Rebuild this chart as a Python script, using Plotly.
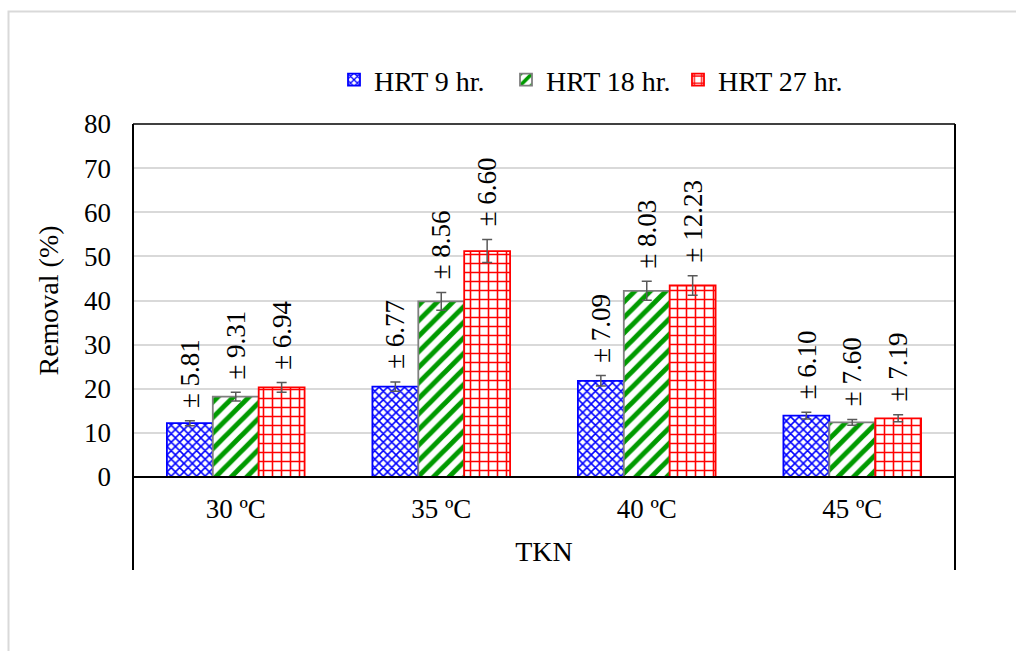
import plotly.graph_objects as go

# Temperatures on the category axis
categories = ["30 ºC", "35 ºC", "40 ºC", "45 ºC"]

# Mean TKN removal (%) for each hydraulic retention time
hrt9 = [12.2, 20.5, 21.8, 13.9]
hrt18 = [18.2, 39.8, 42.2, 12.4]
hrt27 = [20.3, 51.2, 43.4, 13.3]

# Error bar half-lengths
hrt9_err = [0.57, 1.05, 1.2, 0.75]
hrt18_err = [1.0, 2.0, 2.15, 0.65]
hrt27_err = [1.1, 2.6, 2.2, 0.8]

# Standard deviation labels written above each bar
hrt9_sd = ["5.81", "6.77", "7.09", "6.10"]
hrt18_sd = ["9.31", "8.56", "8.03", "7.60"]
hrt27_sd = ["6.94", "6.60", "12.23", "7.19"]

series_names = ["HRT 9 hr.", "HRT 18 hr.", "HRT 27 hr."]
y_ticks = [0, 10, 20, 30, 40, 50, 60, 70, 80]

FONT = "Liberation Serif"
FS = 27
FS_BIG = 28
W, H = 1016, 651
ML, MR, MT, MB = 133, 61, 124, 174
PW, PH = W - ML - MR, H - MT - MB
BARGAP = 0.33

styles = [
    dict(line="#0000ff", fg="#0000ff", shape="x", size=6, solidity=0.45),
    dict(line="#7f7f7f", fg="#009a00", shape="/", size=11, solidity=0.45),
    dict(line="#ff0000", fg="#ff0000", shape="+", size=9, solidity=0.32),
]
values = [hrt9, hrt18, hrt27]
errors = [hrt9_err, hrt18_err, hrt27_err]
sds = [hrt9_sd, hrt18_sd, hrt27_sd]

fig = go.Figure()
for name, vals, errs, st in zip(series_names, values, errors, styles):
    fig.add_trace(go.Bar(
        x=categories, y=vals, name=name,
        marker=dict(
            color="white",
            line=dict(color=st["line"], width=1.8),
            pattern=dict(shape=st["shape"], fgcolor=st["fg"], bgcolor="white",
                         fgopacity=1, size=st["size"],
                         solidity=st["solidity"]),
        ),
        error_y=dict(type="data", array=errs, color="#595959",
                     thickness=1.5, width=5),
    ))

# Rotated "± sd" labels sitting on top of each error bar
bw = (1 - BARGAP) / 3
annotations = []
for j, (vals, errs, labels) in enumerate(zip(values, errors, sds)):
    for i in range(len(categories)):
        annotations.append(dict(
            x=i + (j - 1) * bw, y=vals[i] + errs[i], xref="x", yref="y",
            text="± " + labels[i], textangle=-90, showarrow=False,
            xanchor="center", yanchor="bottom", yshift=11,
            font=dict(family=FONT, size=FS, color="black"),
        ))


def py(px):
    return (H - MB - px) / PH


def px_x(px):
    return (px - ML) / PW


shapes = [
    # light outer frame
    dict(type="rect", xref="paper", yref="paper", x0=px_x(8.5), x1=px_x(1030),
         y0=py(670), y1=py(11.5), line=dict(color="#d9d9d9", width=2),
         layer="below"),
    # plot frame and category-axis extensions
    dict(type="line", xref="paper", yref="paper", x0=0, x1=1, y0=1, y1=1,
         line=dict(color="black", width=1.5), layer="above"),
    dict(type="line", xref="paper", yref="paper", x0=0, x1=0, y0=py(570), y1=1,
         line=dict(color="black", width=2), layer="above"),
    dict(type="line", xref="paper", yref="paper", x0=1, x1=1, y0=py(570), y1=1,
         line=dict(color="black", width=2), layer="above"),
    dict(type="line", xref="paper", yref="paper", x0=0, x1=1, y0=0, y1=0,
         line=dict(color="black", width=2), layer="above"),
]

fig.update_layout(
    width=W, height=H, autosize=False,
    margin=dict(l=ML, r=MR, t=MT, b=MB, pad=0),
    paper_bgcolor="white", plot_bgcolor="white",
    barmode="group", bargap=BARGAP, bargroupgap=0,
    font=dict(family=FONT, size=FS, color="black"),
    legend=dict(orientation="h", x=px_x(334), y=py(80), xanchor="left",
                yanchor="middle",
                font=dict(family=FONT, size=FS_BIG, color="black"),
                bgcolor="rgba(0,0,0,0)", itemwidth=30,
                entrywidth=127, entrywidthmode="pixels"),
    xaxis=dict(showline=False, ticks="", ticklabelstandoff=13,
               tickfont=dict(family=FONT, size=FS, color="black"),
               title=dict(text="TKN", standoff=18,
                          font=dict(family=FONT, size=FS_BIG, color="black"))),
    yaxis=dict(range=[0, 80], tickvals=y_ticks, showline=False, zeroline=False,
               gridcolor="#d9d9d9", gridwidth=1.5, ticks="",
               ticklabelstandoff=21,
               tickfont=dict(family=FONT, size=FS, color="black"),
               title=dict(text="Removal (%)", standoff=17,
                          font=dict(family=FONT, size=FS_BIG, color="black"))),
    shapes=shapes,
    annotations=annotations,
)

fig.write_html("out.html")
